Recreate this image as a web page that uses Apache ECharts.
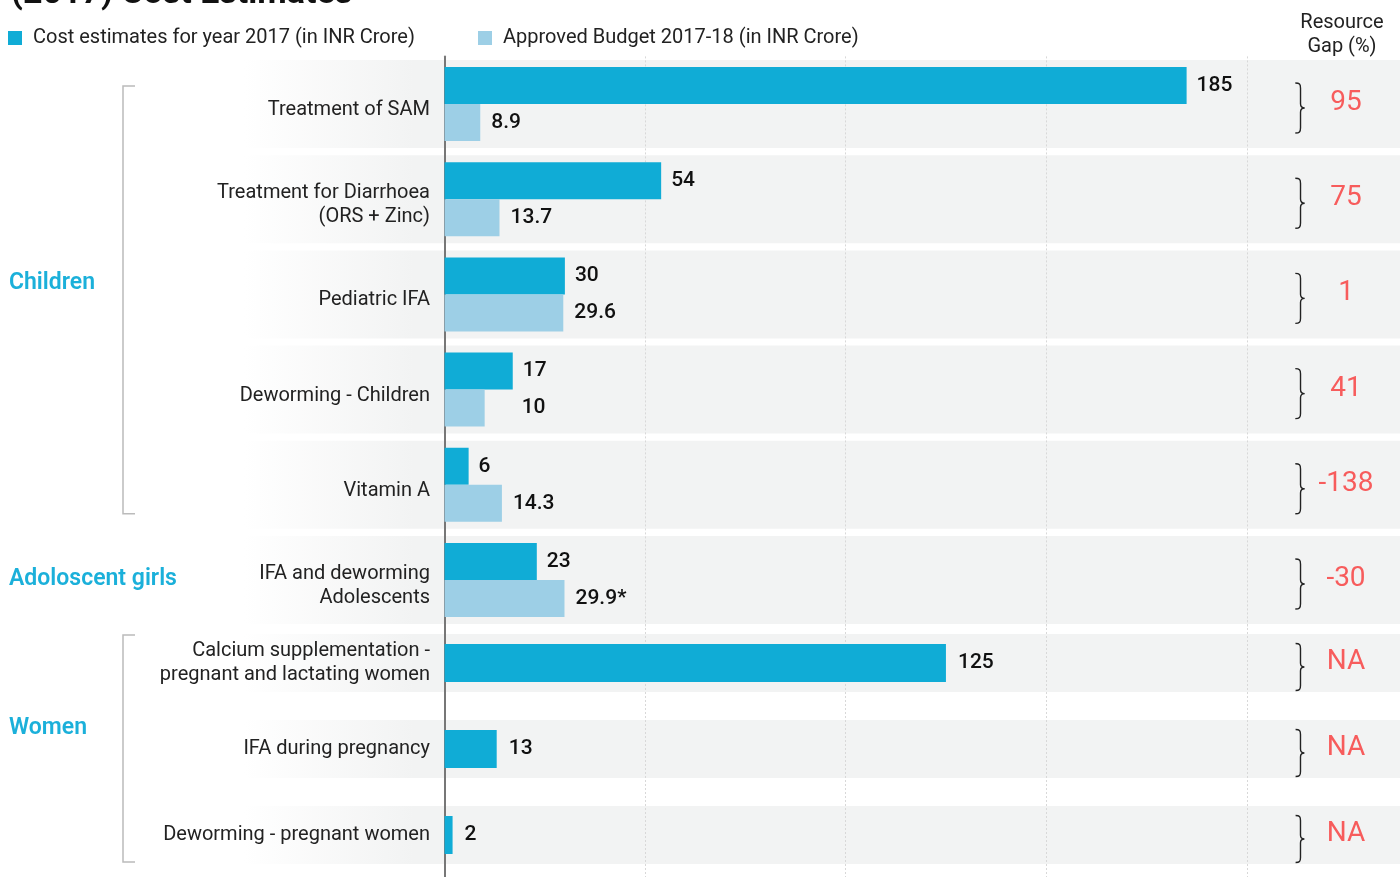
<!DOCTYPE html>
<html>
<head>
<meta charset="utf-8">
<script src="https://cdn.jsdelivr.net/npm/echarts@6/dist/echarts.min.js"></script>
<style>
html,body{margin:0;padding:0;background:#fff;}
#chart{width:1400px;height:877px;}
</style>
</head>
<body>
<div id="chart"></div>
<script>
// ---- data ----
const categoriesA = ['Treatment of SAM', 'Treatment for Diarrhoea\n(ORS + Zinc)', 'Pediatric IFA', 'Deworming - Children', 'Vitamin A', 'IFA and deworming\nAdolescents'];
const costA = [185, 54, 30, 17, 6, 23];
const budgetA = [8.9, 13.7, 29.6, 10, 14.3, 29.9];
const budgetNoteA = ['', '', '', '', '', '*'];
const gapA = ['95', '75', '1', '41', '-138', '-30'];

const categoriesB = ['Calcium supplementation -\npregnant and lactating women', 'IFA during pregnancy', 'Deworming - pregnant women'];
const costB = [125, 13, 2];
const gapB = ['NA', 'NA', 'NA'];

const seriesNames = ['Cost estimates for year 2017 (in INR Crore)', 'Approved Budget 2017-18 (in INR Crore)'];
const groups = ['Children', 'Adoloscent girls', 'Women'];
const titleText = '(2017) Cost Estimates';
const gapHeader = 'Resource\nGap (%)';

// ---- styles ----
const C_COST = '#10acd6';
const C_BUDGET = '#9dcfe6';
const C_BAND = '#f2f3f3';
const C_GAP = '#f75c5c';
const C_GROUP = '#1bb0da';
const NUM_FONT = "Roboto, 'Noto Sans', sans-serif";
const TXT_FONT = "Roboto, 'Noto Sans', sans-serif";

const GRID_LEFT = 244, X_MIN = -50, X_MAX = 238.2;
const AXIS_X = 444;
const BRACE_FRAC = (1300 - GRID_LEFT) / (1400 - GRID_LEFT);
const GAPTEXT_FRAC = (1346 - GRID_LEFT) / (1400 - GRID_LEFT);
const bandGradient = {
  type: 'linear', x: 0, y: 0, x2: 1, y2: 0,
  colorStops: [
    {offset: 0, color: '#ffffff'},
    {offset: (AXIS_X - 30 - GRID_LEFT) / (1400 - GRID_LEFT), color: C_BAND},
    {offset: 1, color: C_BAND}
  ]
};

const chart = echarts.init(document.getElementById('chart'), null, {renderer: 'canvas'});

function dataXAxis(grid, showSplit) {
  return {
    type: 'value', gridIndex: grid, min: X_MIN, max: X_MAX, interval: 50,
    axisLine: {show: false}, axisTick: {show: false}, axisLabel: {show: false},
    splitLine: {show: showSplit, showMinLine: false, showMaxLine: false,
      lineStyle: {type: [2, 2], color: '#d8d8d8', width: 1}}
  };
}
function bandXAxis(grid) {
  return {type: 'value', gridIndex: grid, min: 0, max: 1, show: false, splitLine: {show: false}};
}
function dataYAxis(grid, cats, onZeroIdx, spacer) {
  const tok = {fontSize: 20, lineHeight: 24, color: '#222', fontFamily: TXT_FONT, align: 'right'};
  return {
    type: 'category', gridIndex: grid, data: cats, inverse: true,
    axisLine: {show: true, onZero: true, onZeroAxisIndex: onZeroIdx, lineStyle: {color: '#777', width: 2}},
    axisTick: {show: false},
    axisLabel: {
      margin: 14 - (AXIS_X - GRID_LEFT), align: 'right',
      formatter: v => (spacer ? '{s| }\n' : '') + v.split('\n').map(l => '{n|' + l + '}').join('\n'),
      rich: {
        s: {fontSize: 2, lineHeight: spacer || 1, color: 'rgba(0,0,0,0)'},
        n: Object.assign({}, tok)
      }
    }
  };
}
function bandYAxis(grid, cats) {
  return {type: 'category', gridIndex: grid, data: cats, inverse: true, show: false};
}

function braceSeries(xIdx, yIdx, gaps, braceH) {
  return {
    type: 'custom', xAxisIndex: xIdx, yAxisIndex: yIdx, z: 3, silent: true,
    data: gaps.map((g, i) => [BRACE_FRAC, i]),
    renderItem: function (params, api) {
      const i = api.value(1);
      const p = api.coord([BRACE_FRAC, i]);
      const t = api.coord([GAPTEXT_FRAC, i]);
      const cy = p[1] + 4;
      const h = braceH;
      return {
        type: 'group',
        children: [
          {
            type: 'path',
            shape: {
              pathData: 'M0 0 C4 0 5 1 5 5 L5 20 C5 23 6 24 9 24 C6 24 5 25 5 28 L5 43 C5 47 4 48 0 48',
              x: p[0] - 5, y: cy - h / 2, width: 10, height: h
            },
            style: {fill: 'none', stroke: '#222', lineWidth: 1.4}
          },
          {
            type: 'text',
            x: t[0], y: p[1] - 1,
            style: {text: gaps[i], fill: C_GAP, fontSize: 28, fontFamily: NUM_FONT, fontWeight: 400,
              align: 'center', verticalAlign: 'middle'}
          }
        ]
      };
    }
  };
}

const numLabel = {fontSize: 21, fontWeight: 500, color: '#111', fontFamily: NUM_FONT};

const option = {
  animation: false,
  backgroundColor: '#ffffff',
  title: {
    text: titleText, left: 6, top: -28,
    textStyle: {fontSize: 34, fontWeight: 'bold', color: '#111', fontFamily: TXT_FONT}
  },
  legend: [
    {data: [seriesNames[0]], left: 8, top: 28, padding: 0, icon: 'rect', itemWidth: 14, itemHeight: 14,
      itemGap: 10, textStyle: {fontSize: 20, color: '#222', fontFamily: TXT_FONT, padding: [0, 0, 0, 6]}},
    {data: [seriesNames[1]], left: 478, top: 28, padding: 0, icon: 'rect', itemWidth: 14, itemHeight: 14,
      itemGap: 10, textStyle: {fontSize: 20, color: '#222', fontFamily: TXT_FONT, padding: [0, 0, 0, 6]}}
  ],
  grid: [
    {left: GRID_LEFT, right: 0, top: 56.4, height: 571.2, outerBoundsMode: 'none', containLabel: false},
    {left: GRID_LEFT, right: 0, top: 620, height: 258, outerBoundsMode: 'none', containLabel: false}
  ],
  xAxis: [dataXAxis(0, true), bandXAxis(0), dataXAxis(1, true), bandXAxis(1)],
  yAxis: [dataYAxis(0, categoriesA, 0, 12), bandYAxis(0, categoriesA), dataYAxis(1, categoriesB, 2, 0), bandYAxis(1, categoriesB)],
  series: [
    {
      name: 'bandA', type: 'bar', xAxisIndex: 1, yAxisIndex: 1, z: -1, silent: true,
      barWidth: 88, data: categoriesA.map(() => 1), itemStyle: {color: bandGradient}
    },
    {
      name: 'bandB', type: 'bar', xAxisIndex: 3, yAxisIndex: 3, z: -1, silent: true,
      barWidth: 58, data: categoriesB.map(() => 1), itemStyle: {color: bandGradient}
    },
    {
      name: seriesNames[0], type: 'bar', xAxisIndex: 0, yAxisIndex: 0, barWidth: 37, barGap: '0%',
      data: costA, itemStyle: {color: C_COST},
      label: Object.assign({show: true, position: 'right', distance: 10}, numLabel)
    },
    {
      name: seriesNames[1], type: 'bar', xAxisIndex: 0, yAxisIndex: 0, barWidth: 37, barGap: '0%',
      data: budgetA.map((v, i) => i === 3 ? {value: v, label: {distance: 37}} : v),
      itemStyle: {color: C_BUDGET},
      label: Object.assign({show: true, position: 'right', distance: 11,
        formatter: p => p.value + budgetNoteA[p.dataIndex]}, numLabel)
    },
    {
      name: seriesNames[0], type: 'bar', xAxisIndex: 2, yAxisIndex: 2, barWidth: 38,
      data: costB, itemStyle: {color: C_COST},
      label: Object.assign({show: true, position: 'right', distance: 12}, numLabel)
    },
    braceSeries(1, 0, gapA, 50),
    braceSeries(3, 2, gapB, 47)
  ],
  graphic: []
};

chart.setOption(option);

// decorations positioned from the axes
function rowY(gridIdx, i) {
  return chart.convertToPixel({xAxisIndex: gridIdx === 0 ? 0 : 2, yAxisIndex: gridIdx === 0 ? 0 : 2}, [0, i])[1];
}
const bx = 123, bx2 = 135;
const chTop = rowY(0, 0) - 18, chBot = rowY(0, 4) + 29;
const wTop = rowY(1, 0) - 28, wBot = rowY(1, 2) + 27;
const groupStyle = {fill: C_GROUP, fontSize: 23, fontWeight: 600, fontFamily: TXT_FONT, verticalAlign: 'middle'};
chart.setOption({
  graphic: [
    {type: 'polyline', shape: {points: [[bx2, chTop], [bx, chTop], [bx, chBot], [bx2, chBot]]},
      style: {stroke: '#bbb', lineWidth: 1.5, fill: null}},
    {type: 'polyline', shape: {points: [[bx2, wTop], [bx, wTop], [bx, wBot], [bx2, wBot]]},
      style: {stroke: '#bbb', lineWidth: 1.5, fill: null}},
    {type: 'text', x: 9, y: rowY(0, 2) - 11, style: Object.assign({text: groups[0]}, groupStyle)},
    {type: 'text', x: 9, y: rowY(0, 5) - 1, style: Object.assign({text: groups[1]}, groupStyle)},
    {type: 'text', x: 9, y: (rowY(1, 0) + rowY(1, 1)) / 2 + 22, style: Object.assign({text: groups[2]}, groupStyle)},
    {type: 'text', x: 1342, y: 11, style: {text: gapHeader, fill: '#222', fontSize: 20, fontFamily: TXT_FONT,
      align: 'center', lineHeight: 24}}
  ]
});
</script>
</body>
</html>
